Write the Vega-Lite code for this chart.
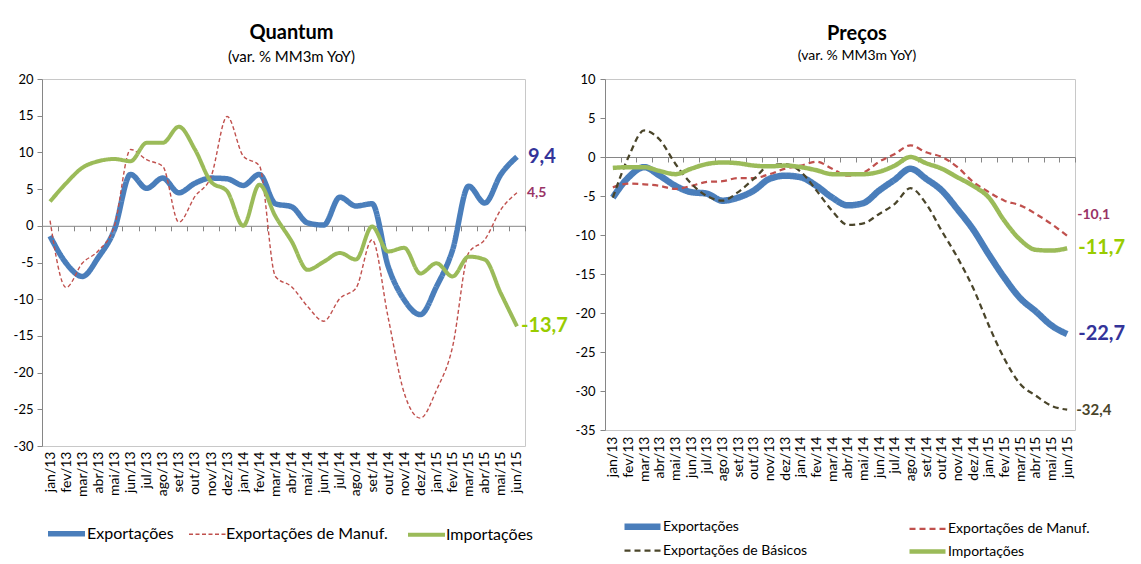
{
  "$schema": "https://vega.github.io/schema/vega-lite/v6.json",
  "background": "#ffffff",
  "padding": {"left": 5, "top": 22, "right": 5, "bottom": 0},
  "config": {
    "font": "Lato",
    "view": {"stroke": "#c8c8c8"},
    "locale": {"number": {"decimal": ",", "thousands": ".", "grouping": [3], "currency": ["", ""], "minus": "-"}},
    "axis": {"labelFont": "Lato", "labelColor": "#000000", "grid": false},
    "legend": {"labelFont": "Lato", "labelColor": "#000000", "labelLimit": 400}
  },
  "datasets": {
    "quantum": [
      {"m": "jan/13", "s": "Exportações", "v": -1.4}, {"m": "fev/13", "s": "Exportações", "v": -5.1}, {"m": "mar/13", "s": "Exportações", "v": -6.9}, {"m": "abr/13", "s": "Exportações", "v": -4.3}, {"m": "mai/13", "s": "Exportações", "v": -0.5}, {"m": "jun/13", "s": "Exportações", "v": 7.0}, {"m": "jul/13", "s": "Exportações", "v": 5.1}, {"m": "ago/13", "s": "Exportações", "v": 6.5}, {"m": "set/13", "s": "Exportações", "v": 4.5}, {"m": "out/13", "s": "Exportações", "v": 5.8}, {"m": "nov/13", "s": "Exportações", "v": 6.5}, {"m": "dez/13", "s": "Exportações", "v": 6.4}, {"m": "jan/14", "s": "Exportações", "v": 5.5}, {"m": "fev/14", "s": "Exportações", "v": 7.0}, {"m": "mar/14", "s": "Exportações", "v": 3.0}, {"m": "abr/14", "s": "Exportações", "v": 2.6}, {"m": "mai/14", "s": "Exportações", "v": 0.4}, {"m": "jun/14", "s": "Exportações", "v": 0.1}, {"m": "jul/14", "s": "Exportações", "v": 3.9}, {"m": "ago/14", "s": "Exportações", "v": 2.7}, {"m": "set/14", "s": "Exportações", "v": 3.0}, {"m": "out/14", "s": "Exportações", "v": -5.5}, {"m": "nov/14", "s": "Exportações", "v": -10.1}, {"m": "dez/14", "s": "Exportações", "v": -12.1}, {"m": "jan/15", "s": "Exportações", "v": -8.3}, {"m": "fev/15", "s": "Exportações", "v": -3.3}, {"m": "mar/15", "s": "Exportações", "v": 5.4}, {"m": "abr/15", "s": "Exportações", "v": 3.1}, {"m": "mai/15", "s": "Exportações", "v": 7.0}, {"m": "jun/15", "s": "Exportações", "v": 9.4},
      {"m": "jan/13", "s": "Exportações de Manuf.", "v": 0.7}, {"m": "fev/13", "s": "Exportações de Manuf.", "v": -8.4}, {"m": "mar/13", "s": "Exportações de Manuf.", "v": -5.1}, {"m": "abr/13", "s": "Exportações de Manuf.", "v": -3.4}, {"m": "mai/13", "s": "Exportações de Manuf.", "v": 0.0}, {"m": "jun/13", "s": "Exportações de Manuf.", "v": 10.4}, {"m": "jul/13", "s": "Exportações de Manuf.", "v": 9.0}, {"m": "ago/13", "s": "Exportações de Manuf.", "v": 8.1}, {"m": "set/13", "s": "Exportações de Manuf.", "v": 0.5}, {"m": "out/13", "s": "Exportações de Manuf.", "v": 4.0}, {"m": "nov/13", "s": "Exportações de Manuf.", "v": 6.7}, {"m": "dez/13", "s": "Exportações de Manuf.", "v": 14.9}, {"m": "jan/14", "s": "Exportações de Manuf.", "v": 9.5}, {"m": "fev/14", "s": "Exportações de Manuf.", "v": 8.2}, {"m": "mar/14", "s": "Exportações de Manuf.", "v": -6.9}, {"m": "abr/14", "s": "Exportações de Manuf.", "v": -8.3}, {"m": "mai/14", "s": "Exportações de Manuf.", "v": -11.0}, {"m": "jun/14", "s": "Exportações de Manuf.", "v": -13.0}, {"m": "jul/14", "s": "Exportações de Manuf.", "v": -9.9}, {"m": "ago/14", "s": "Exportações de Manuf.", "v": -8.5}, {"m": "set/14", "s": "Exportações de Manuf.", "v": -1.9}, {"m": "out/14", "s": "Exportações de Manuf.", "v": -12.5}, {"m": "nov/14", "s": "Exportações de Manuf.", "v": -22.8}, {"m": "dez/14", "s": "Exportações de Manuf.", "v": -26.2}, {"m": "jan/15", "s": "Exportações de Manuf.", "v": -22.4}, {"m": "fev/15", "s": "Exportações de Manuf.", "v": -16.5}, {"m": "mar/15", "s": "Exportações de Manuf.", "v": -3.7}, {"m": "abr/15", "s": "Exportações de Manuf.", "v": -1.9}, {"m": "mai/15", "s": "Exportações de Manuf.", "v": 2.2}, {"m": "jun/15", "s": "Exportações de Manuf.", "v": 4.5},
      {"m": "jan/13", "s": "Importações", "v": 3.3}, {"m": "fev/13", "s": "Importações", "v": 5.8}, {"m": "mar/13", "s": "Importações", "v": 7.9}, {"m": "abr/13", "s": "Importações", "v": 8.8}, {"m": "mai/13", "s": "Importações", "v": 9.1}, {"m": "jun/13", "s": "Importações", "v": 8.8}, {"m": "jul/13", "s": "Importações", "v": 11.3}, {"m": "ago/13", "s": "Importações", "v": 11.3}, {"m": "set/13", "s": "Importações", "v": 13.5}, {"m": "out/13", "s": "Importações", "v": 10.4}, {"m": "nov/13", "s": "Importações", "v": 6.0}, {"m": "dez/13", "s": "Importações", "v": 4.7}, {"m": "jan/14", "s": "Importações", "v": 0.0}, {"m": "fev/14", "s": "Importações", "v": 5.6}, {"m": "mar/14", "s": "Importações", "v": 1.3}, {"m": "abr/14", "s": "Importações", "v": -2.1}, {"m": "mai/14", "s": "Importações", "v": -6.0}, {"m": "jun/14", "s": "Importações", "v": -4.9}, {"m": "jul/14", "s": "Importações", "v": -3.7}, {"m": "ago/14", "s": "Importações", "v": -4.6}, {"m": "set/14", "s": "Importações", "v": -0.1}, {"m": "out/14", "s": "Importações", "v": -3.5}, {"m": "nov/14", "s": "Importações", "v": -3.0}, {"m": "dez/14", "s": "Importações", "v": -6.5}, {"m": "jan/15", "s": "Importações", "v": -5.1}, {"m": "fev/15", "s": "Importações", "v": -6.9}, {"m": "mar/15", "s": "Importações", "v": -4.2}, {"m": "abr/15", "s": "Importações", "v": -4.6}, {"m": "mai/15", "s": "Importações", "v": -9.2}, {"m": "jun/15", "s": "Importações", "v": -13.7}
    ],
    "precos": [
      {"m": "jan/13", "s": "Exportações", "v": -5.2}, {"m": "fev/13", "s": "Exportações", "v": -2.6}, {"m": "mar/13", "s": "Exportações", "v": -1.3}, {"m": "abr/13", "s": "Exportações", "v": -2.4}, {"m": "mai/13", "s": "Exportações", "v": -3.7}, {"m": "jun/13", "s": "Exportações", "v": -4.5}, {"m": "jul/13", "s": "Exportações", "v": -4.7}, {"m": "ago/13", "s": "Exportações", "v": -5.6}, {"m": "set/13", "s": "Exportações", "v": -5.2}, {"m": "out/13", "s": "Exportações", "v": -4.3}, {"m": "nov/13", "s": "Exportações", "v": -2.8}, {"m": "dez/13", "s": "Exportações", "v": -2.4}, {"m": "jan/14", "s": "Exportações", "v": -2.6}, {"m": "fev/14", "s": "Exportações", "v": -3.7}, {"m": "mar/14", "s": "Exportações", "v": -5.2}, {"m": "abr/14", "s": "Exportações", "v": -6.2}, {"m": "mai/14", "s": "Exportações", "v": -5.9}, {"m": "jun/14", "s": "Exportações", "v": -4.3}, {"m": "jul/14", "s": "Exportações", "v": -2.9}, {"m": "ago/14", "s": "Exportações", "v": -1.5}, {"m": "set/14", "s": "Exportações", "v": -2.8}, {"m": "out/14", "s": "Exportações", "v": -4.3}, {"m": "nov/14", "s": "Exportações", "v": -6.7}, {"m": "dez/14", "s": "Exportações", "v": -9.3}, {"m": "jan/15", "s": "Exportações", "v": -12.5}, {"m": "fev/15", "s": "Exportações", "v": -15.5}, {"m": "mar/15", "s": "Exportações", "v": -18.1}, {"m": "abr/15", "s": "Exportações", "v": -19.8}, {"m": "mai/15", "s": "Exportações", "v": -21.6}, {"m": "jun/15", "s": "Exportações", "v": -22.7},
      {"m": "jan/13", "s": "Exportações de Manuf.", "v": -3.9}, {"m": "fev/13", "s": "Exportações de Manuf.", "v": -3.4}, {"m": "mar/13", "s": "Exportações de Manuf.", "v": -3.5}, {"m": "abr/13", "s": "Exportações de Manuf.", "v": -3.7}, {"m": "mai/13", "s": "Exportações de Manuf.", "v": -4.1}, {"m": "jun/13", "s": "Exportações de Manuf.", "v": -3.7}, {"m": "jul/13", "s": "Exportações de Manuf.", "v": -3.2}, {"m": "ago/13", "s": "Exportações de Manuf.", "v": -3.1}, {"m": "set/13", "s": "Exportações de Manuf.", "v": -2.7}, {"m": "out/13", "s": "Exportações de Manuf.", "v": -2.7}, {"m": "nov/13", "s": "Exportações de Manuf.", "v": -2.2}, {"m": "dez/13", "s": "Exportações de Manuf.", "v": -1.5}, {"m": "jan/14", "s": "Exportações de Manuf.", "v": -1.1}, {"m": "fev/14", "s": "Exportações de Manuf.", "v": -0.6}, {"m": "mar/14", "s": "Exportações de Manuf.", "v": -1.5}, {"m": "abr/14", "s": "Exportações de Manuf.", "v": -2.4}, {"m": "mai/14", "s": "Exportações de Manuf.", "v": -2.0}, {"m": "jun/14", "s": "Exportações de Manuf.", "v": -0.6}, {"m": "jul/14", "s": "Exportações de Manuf.", "v": 0.4}, {"m": "ago/14", "s": "Exportações de Manuf.", "v": 1.5}, {"m": "set/14", "s": "Exportações de Manuf.", "v": 0.6}, {"m": "out/14", "s": "Exportações de Manuf.", "v": 0.0}, {"m": "nov/14", "s": "Exportações de Manuf.", "v": -1.3}, {"m": "dez/14", "s": "Exportações de Manuf.", "v": -3.2}, {"m": "jan/15", "s": "Exportações de Manuf.", "v": -4.5}, {"m": "fev/15", "s": "Exportações de Manuf.", "v": -5.6}, {"m": "mar/15", "s": "Exportações de Manuf.", "v": -6.2}, {"m": "abr/15", "s": "Exportações de Manuf.", "v": -7.3}, {"m": "mai/15", "s": "Exportações de Manuf.", "v": -8.6}, {"m": "jun/15", "s": "Exportações de Manuf.", "v": -10.1},
      {"m": "jan/13", "s": "Exportações de Básicos", "v": -5.2}, {"m": "fev/13", "s": "Exportações de Básicos", "v": 0.0}, {"m": "mar/13", "s": "Exportações de Básicos", "v": 3.4}, {"m": "abr/13", "s": "Exportações de Básicos", "v": 2.2}, {"m": "mai/13", "s": "Exportações de Básicos", "v": -0.9}, {"m": "jun/13", "s": "Exportações de Básicos", "v": -3.4}, {"m": "jul/13", "s": "Exportações de Básicos", "v": -5.0}, {"m": "ago/13", "s": "Exportações de Básicos", "v": -5.6}, {"m": "set/13", "s": "Exportações de Básicos", "v": -4.5}, {"m": "out/13", "s": "Exportações de Básicos", "v": -2.8}, {"m": "nov/13", "s": "Exportações de Básicos", "v": -1.1}, {"m": "dez/13", "s": "Exportações de Básicos", "v": -0.9}, {"m": "jan/14", "s": "Exportações de Básicos", "v": -1.9}, {"m": "fev/14", "s": "Exportações de Básicos", "v": -4.3}, {"m": "mar/14", "s": "Exportações de Básicos", "v": -6.9}, {"m": "abr/14", "s": "Exportações de Básicos", "v": -8.7}, {"m": "mai/14", "s": "Exportações de Básicos", "v": -8.5}, {"m": "jun/14", "s": "Exportações de Básicos", "v": -7.3}, {"m": "jul/14", "s": "Exportações de Básicos", "v": -6.0}, {"m": "ago/14", "s": "Exportações de Básicos", "v": -4.0}, {"m": "set/14", "s": "Exportações de Básicos", "v": -6.0}, {"m": "out/14", "s": "Exportações de Básicos", "v": -9.5}, {"m": "nov/14", "s": "Exportações de Básicos", "v": -12.9}, {"m": "dez/14", "s": "Exportações de Básicos", "v": -16.8}, {"m": "jan/15", "s": "Exportações de Básicos", "v": -21.6}, {"m": "fev/15", "s": "Exportações de Básicos", "v": -25.9}, {"m": "mar/15", "s": "Exportações de Básicos", "v": -29.1}, {"m": "abr/15", "s": "Exportações de Básicos", "v": -30.6}, {"m": "mai/15", "s": "Exportações de Básicos", "v": -31.9}, {"m": "jun/15", "s": "Exportações de Básicos", "v": -32.4},
      {"m": "jan/13", "s": "Importações", "v": -1.4}, {"m": "fev/13", "s": "Importações", "v": -1.3}, {"m": "mar/13", "s": "Importações", "v": -1.3}, {"m": "abr/13", "s": "Importações", "v": -1.8}, {"m": "mai/13", "s": "Importações", "v": -2.2}, {"m": "jun/13", "s": "Importações", "v": -1.5}, {"m": "jul/13", "s": "Importações", "v": -0.9}, {"m": "ago/13", "s": "Importações", "v": -0.7}, {"m": "set/13", "s": "Importações", "v": -0.8}, {"m": "out/13", "s": "Importações", "v": -1.1}, {"m": "nov/13", "s": "Importações", "v": -1.2}, {"m": "dez/13", "s": "Importações", "v": -1.1}, {"m": "jan/14", "s": "Importações", "v": -1.3}, {"m": "fev/14", "s": "Importações", "v": -1.7}, {"m": "mar/14", "s": "Importações", "v": -2.2}, {"m": "abr/14", "s": "Importações", "v": -2.2}, {"m": "mai/14", "s": "Importações", "v": -2.2}, {"m": "jun/14", "s": "Importações", "v": -1.9}, {"m": "jul/14", "s": "Importações", "v": -1.1}, {"m": "ago/14", "s": "Importações", "v": 0.0}, {"m": "set/14", "s": "Importações", "v": -0.8}, {"m": "out/14", "s": "Importações", "v": -1.5}, {"m": "nov/14", "s": "Importações", "v": -2.6}, {"m": "dez/14", "s": "Importações", "v": -3.7}, {"m": "jan/15", "s": "Importações", "v": -5.2}, {"m": "fev/15", "s": "Importações", "v": -8.2}, {"m": "mar/15", "s": "Importações", "v": -10.6}, {"m": "abr/15", "s": "Importações", "v": -11.9}, {"m": "mai/15", "s": "Importações", "v": -12.0}, {"m": "jun/15", "s": "Importações", "v": -11.7}
    ]
  },
  "hconcat": [
    {
      "width": 483,
      "height": 367,
      "title": {"text": "Quantum", "subtitle": "(var. % MM3m YoY)", "fontSize": 20, "fontWeight": "bold", "subtitleFontSize": 15, "subtitlePadding": 7, "color": "#000000", "subtitleColor": "#000000", "font": "Lato", "subtitleFont": "Lato", "anchor": "middle", "dx": 8, "offset": 8},
      "data": {"name": "quantum"},
      "encoding": {
        "x": {"field": "m", "type": "ordinal", "sort": null, "title": null,
          "scale": {"type": "point", "padding": 0.5, "domain": ["jan/13","fev/13","mar/13","abr/13","mai/13","jun/13","jul/13","ago/13","set/13","out/13","nov/13","dez/13","jan/14","fev/14","mar/14","abr/14","mai/14","jun/14","jul/14","ago/14","set/14","out/14","nov/14","dez/14","jan/15","fev/15","mar/15","abr/15","mai/15","jun/15"]},
          "axis": {"orient": "bottom", "labelAngle": -90, "ticks": false, "domain": false, "labelPadding": 5, "labelFontSize": 14, "labelOverlap": false, "labelBound": false}},
        "y": {"field": "v", "type": "quantitative", "title": null,
          "scale": {"domain": [-30, 20], "nice": false, "zero": false},
          "axis": {"values": [-30, -25, -20, -15, -10, -5, 0, 5, 10, 15, 20], "domainColor": "#868686", "tickColor": "#868686", "tickSize": 5, "labelFontSize": 13, "labelPadding": 4, "minExtent": 36, "maxExtent": 36}}
      },
      "layer": [
        {
          "mark": {"type": "point", "opacity": 0},
          "encoding": {
            "x": {"field": "m", "type": "ordinal", "sort": null, "title": null,
              "axis": {"orient": "bottom", "offset": -220.2, "labels": false, "domain": true, "domainColor": "#868686", "ticks": true, "tickSize": 5, "tickColor": "#868686", "tickOffset": 8.05}}
          }
        },
        {
          "mark": {"type": "line", "interpolate": "monotone"},
          "encoding": {
            "color": {"field": "s", "type": "nominal", "scale": {"domain": ["Exportações", "Exportações de Manuf.", "Importações"], "range": ["#4a7ebb", "#c0504d", "#9bbb59"]},
              "legend": {"orient": "none", "legendX": 3, "legendY": 433, "direction": "horizontal", "title": null, "symbolType": "stroke", "symbolSize": 1369, "labelFontSize": 16, "labelOffset": -1, "columnPadding": 12, "padding": 0}},
            "strokeDash": {"field": "s", "type": "nominal", "scale": {"type": "ordinal", "domain": ["Exportações", "Exportações de Manuf.", "Importações"], "range": [[1, 0], [4, 2.5], [1, 0]]}, "legend": {"orient": "none", "legendX": 3, "legendY": 433, "direction": "horizontal", "title": null, "symbolType": "stroke", "symbolSize": 1369, "labelFontSize": 16, "labelOffset": -1, "columnPadding": 12, "padding": 0}},
            "strokeWidth": {"field": "s", "type": "nominal", "scale": {"type": "ordinal", "domain": ["Exportações", "Exportações de Manuf.", "Importações"], "range": [5.5, 1.4, 4]}, "legend": {"orient": "none", "legendX": 3, "legendY": 433, "direction": "horizontal", "title": null, "symbolType": "stroke", "symbolSize": 1369, "labelFontSize": 16, "labelOffset": -1, "columnPadding": 12, "padding": 0}}
          }
        },
        {
          "transform": [{"filter": "datum.m === 'jun/15' && datum.s === 'Exportações'"}],
          "mark": {"type": "text", "align": "left", "baseline": "middle", "dx": 11, "fontSize": 20, "fontWeight": "bold", "color": "#333399"},
          "encoding": {"x": {"field": "m", "type": "ordinal", "sort": null, "axis": null}, "text": {"field": "v", "type": "quantitative", "format": ".1f"}}
        },
        {
          "transform": [{"filter": "datum.m === 'jun/15' && datum.s === 'Exportações de Manuf.'"}],
          "mark": {"type": "text", "align": "left", "baseline": "middle", "dx": 10, "fontSize": 14, "fontWeight": "bold", "color": "#993366"},
          "encoding": {"x": {"field": "m", "type": "ordinal", "sort": null, "axis": null}, "text": {"field": "v", "type": "quantitative", "format": ".1f"}}
        },
        {
          "transform": [{"filter": "datum.m === 'jun/15' && datum.s === 'Importações'"}],
          "mark": {"type": "text", "align": "left", "baseline": "middle", "dx": 4, "fontSize": 20, "fontWeight": "bold", "color": "#99cc00"},
          "encoding": {"x": {"field": "m", "type": "ordinal", "sort": null, "axis": null}, "text": {"field": "v", "type": "quantitative", "format": ".1f"}}
        }
      ],
      "resolve": {"axis": {"x": "independent"}}
    },
    {
      "width": 470,
      "height": 351,
      "title": {"text": "Preços", "subtitle": "(var. % MM3m  YoY)", "fontSize": 20, "fontWeight": "bold", "subtitleFontSize": 14, "subtitlePadding": 5, "color": "#000000", "subtitleColor": "#000000", "font": "Lato", "subtitleFont": "Lato", "anchor": "middle", "dx": 17, "offset": 10},
      "data": {"name": "precos"},
      "encoding": {
        "x": {"field": "m", "type": "ordinal", "sort": null, "title": null,
          "scale": {"type": "point", "padding": 0.5, "domain": ["jan/13","fev/13","mar/13","abr/13","mai/13","jun/13","jul/13","ago/13","set/13","out/13","nov/13","dez/13","jan/14","fev/14","mar/14","abr/14","mai/14","jun/14","jul/14","ago/14","set/14","out/14","nov/14","dez/14","jan/15","fev/15","mar/15","abr/15","mai/15","jun/15"]},
          "axis": {"orient": "bottom", "labelAngle": -90, "ticks": false, "domain": false, "labelPadding": 6, "labelFontSize": 14, "labelOverlap": false, "labelBound": false}},
        "y": {"field": "v", "type": "quantitative", "title": null,
          "scale": {"domain": [-35, 10], "nice": false, "zero": false},
          "axis": {"values": [-35, -30, -25, -20, -15, -10, -5, 0, 5, 10], "domainColor": "#868686", "tickColor": "#868686", "tickSize": 5, "labelFontSize": 13, "labelPadding": 5}}
      },
      "layer": [
        {
          "mark": {"type": "point", "opacity": 0},
          "encoding": {
            "x": {"field": "m", "type": "ordinal", "sort": null, "title": null,
              "axis": {"orient": "bottom", "offset": -273, "labels": false, "domain": true, "domainColor": "#868686", "ticks": true, "tickSize": 5, "tickColor": "#868686", "tickOffset": 7.83}}
          }
        },
        {
          "mark": {"type": "line", "interpolate": "monotone"},
          "encoding": {
            "color": {"field": "s", "type": "nominal", "scale": {"domain": ["Exportações", "Exportações de Manuf.", "Exportações de Básicos", "Importações"], "range": ["#4a7ebb", "#c0504d", "#4a452a", "#9bbb59"]},
              "legend": {"orient": "none", "legendX": 16, "legendY": 435, "columns": 2, "direction": "horizontal", "title": null, "symbolType": "M-1,0H3", "symbolSize": 324, "labelFontSize": 14, "labelOffset": 17, "columnPadding": 92, "rowPadding": 0, "padding": 0}},
            "strokeDash": {"field": "s", "type": "nominal", "scale": {"type": "ordinal", "domain": ["Exportações", "Exportações de Manuf.", "Exportações de Básicos", "Importações"], "range": [[1, 0], [6, 4], [6, 4], [1, 0]]},
              "legend": {"orient": "none", "legendX": 16, "legendY": 435, "columns": 2, "direction": "horizontal", "title": null, "symbolType": "M-1,0H3", "symbolSize": 324, "labelFontSize": 14, "labelOffset": 17, "columnPadding": 92, "rowPadding": 0, "padding": 0}},
            "strokeWidth": {"field": "s", "type": "nominal", "scale": {"type": "ordinal", "domain": ["Exportações", "Exportações de Manuf.", "Exportações de Básicos", "Importações"], "range": [6.5, 2.25, 2.25, 4.5]},
              "legend": {"orient": "none", "legendX": 16, "legendY": 435, "columns": 2, "direction": "horizontal", "title": null, "symbolType": "M-1,0H3", "symbolSize": 324, "labelFontSize": 14, "labelOffset": 17, "columnPadding": 92, "rowPadding": 0, "padding": 0}}
          }
        },
        {
          "transform": [{"filter": "datum.m === 'jun/15' && datum.s === 'Exportações de Manuf.'"}],
          "mark": {"type": "text", "align": "left", "baseline": "middle", "dx": 10, "dy": -21, "fontSize": 14, "fontWeight": "bold", "color": "#993366"},
          "encoding": {"x": {"field": "m", "type": "ordinal", "sort": null, "axis": null}, "text": {"field": "v", "type": "quantitative", "format": ".1f"}}
        },
        {
          "transform": [{"filter": "datum.m === 'jun/15' && datum.s === 'Importações'"}],
          "mark": {"type": "text", "align": "left", "baseline": "middle", "dx": 11, "fontSize": 20, "fontWeight": "bold", "color": "#99cc00"},
          "encoding": {"x": {"field": "m", "type": "ordinal", "sort": null, "axis": null}, "text": {"field": "v", "type": "quantitative", "format": ".1f"}}
        },
        {
          "transform": [{"filter": "datum.m === 'jun/15' && datum.s === 'Exportações'"}],
          "mark": {"type": "text", "align": "left", "baseline": "middle", "dx": 11, "fontSize": 20, "fontWeight": "bold", "color": "#333399"},
          "encoding": {"x": {"field": "m", "type": "ordinal", "sort": null, "axis": null}, "text": {"field": "v", "type": "quantitative", "format": ".1f"}}
        },
        {
          "transform": [{"filter": "datum.m === 'jun/15' && datum.s === 'Exportações de Básicos'"}],
          "mark": {"type": "text", "align": "left", "baseline": "middle", "dx": 9, "fontSize": 15, "fontWeight": "bold", "color": "#4a452a"},
          "encoding": {"x": {"field": "m", "type": "ordinal", "sort": null, "axis": null}, "text": {"field": "v", "type": "quantitative", "format": ".1f"}}
        }
      ],
      "resolve": {"axis": {"x": "independent"}}
    }
  ],
  "spacing": 80,
  "bounds": "flush",
  "resolve": {
    "scale": {"color": "independent", "strokeDash": "independent", "strokeWidth": "independent", "x": "independent", "y": "independent"},
    "legend": {"color": "independent", "strokeDash": "independent", "strokeWidth": "independent"}
  }
}
